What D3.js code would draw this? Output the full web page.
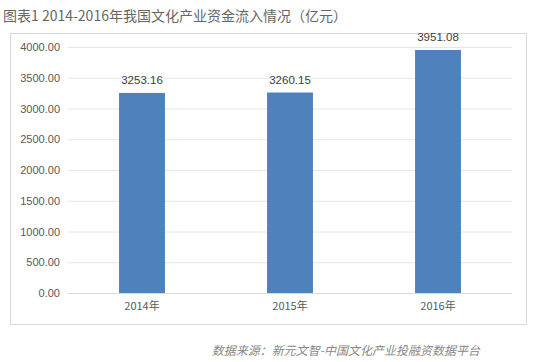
<!DOCTYPE html>
<html>
<head>
<meta charset="utf-8">
<script src="https://cdn.jsdelivr.net/npm/d3@7"></script>
<style>
  body { margin: 0; background: #fff; }
  text { font-family: "Microsoft YaHei", "Noto Sans CJK SC", "Liberation Sans", sans-serif; }
</style>
</head>
<body>
<svg id="chart"></svg>
<script>
const years = ["2014年", "2015年", "2016年"];
const values = [3253.16, 3260.15, 3951.08];
const yTicks = [0, 500, 1000, 1500, 2000, 2500, 3000, 3500, 4000];

let w = 550, h = 362;
let svg = d3.select("#chart")
            .attr("width", w)
            .attr("height", h);

// title
svg.append("text")
    .attr("x", 3)
    .attr("y", 21)
    .attr("font-size", 14)
    .attr("fill", "#666")
    .text("图表1 2014-2016年我国文化产业资金流入情况（亿元）");

// chart frame
svg.append("rect")
    .attr("x", 10.5)
    .attr("y", 33.5)
    .attr("width", 516)
    .attr("height", 291)
    .attr("fill", "#fff")
    .attr("stroke", "#d9d9d9");

let x = d3.scaleBand()
    .domain(years)
    .range([68, 512])
    .paddingInner(0.69)
    .paddingOuter(0.345);

let y = d3.scaleLinear()
    .domain([0, 4000])
    .range([293, 47]);

// gridlines
svg.append("g")
    .selectAll("line")
    .data(yTicks)
    .enter()
    .append("line")
    .attr("x1", 68)
    .attr("x2", 512)
    .attr("y1", d => y(d) + 0.5)
    .attr("y2", d => y(d) + 0.5)
    .attr("stroke", d => d === 0 ? "#d9d9d9" : "#e6e6e6");

// y labels
let yAxis = svg.append("g")
    .attr("transform", "translate(60,0)")
    .call(d3.axisLeft(y).tickValues(yTicks).tickFormat(d3.format(".2f")).tickSize(0).tickPadding(0));
yAxis.select(".domain").remove();
yAxis.selectAll("text")
    .attr("font-size", 11)
    .attr("fill", "#595959")
    .style("font-family", "'Liberation Sans', sans-serif");

// bars
svg.append("g")
    .selectAll("rect")
    .data(values)
    .enter()
    .append("rect")
    .attr("x", (d, i) => x(years[i]))
    .attr("y", d => y(d))
    .attr("width", x.bandwidth())
    .attr("height", d => y(0) - y(d))
    .attr("fill", "#4f81bd");

// value labels
svg.append("g")
    .selectAll("text")
    .data(values)
    .enter()
    .append("text")
    .attr("x", (d, i) => x(years[i]) + x.bandwidth() / 2)
    .attr("y", d => y(d) - 9)
    .attr("text-anchor", "middle")
    .attr("font-size", 11.5)
    .attr("fill", "#404040")
    .style("font-family", "'Liberation Sans', sans-serif")
    .text(d => d.toFixed(2));

// x labels
let xAxis = svg.append("g")
    .attr("transform", "translate(0,293)")
    .call(d3.axisBottom(x).tickSize(0).tickPadding(9));
xAxis.select(".domain").remove();
xAxis.selectAll("text")
    .attr("font-size", 11)
    .attr("fill", "#595959");

// source
svg.append("text")
    .attr("x", 480)
    .attr("y", 355)
    .attr("text-anchor", "end")
    .attr("font-size", 12)
    .attr("font-style", "italic")
    .attr("fill", "#888")
    .text("数据来源：新元文智-中国文化产业投融资数据平台");
</script>
</body>
</html>
